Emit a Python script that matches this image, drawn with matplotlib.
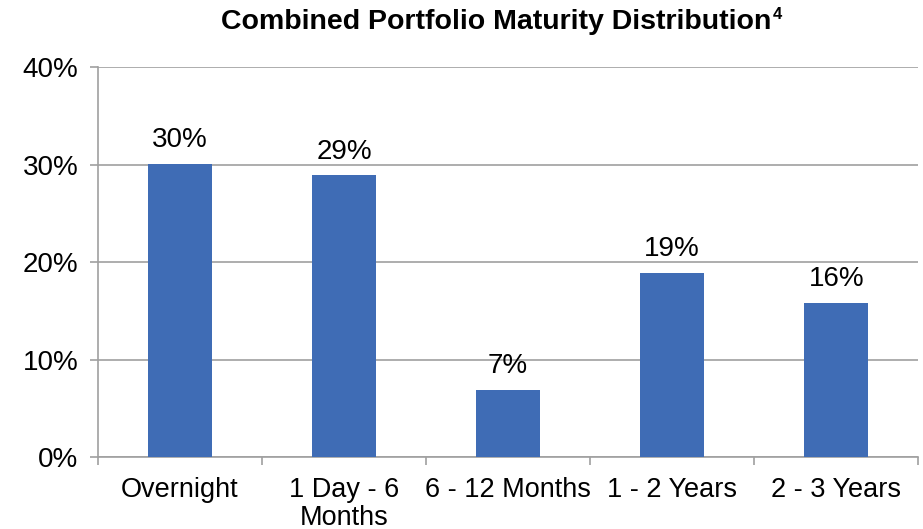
import numpy as np
import matplotlib.pyplot as plt
from matplotlib.ticker import FixedLocator

plt.rcParams['font.family'] = ['Liberation Sans', 'DejaVu Sans']

categories = ['Overnight', '1 Day - 6\nMonths', '6 - 12 Months', '1 - 2 Years', '2 - 3 Years']
values = [30.1, 28.9, 6.9, 18.9, 15.8]
labels = ['30%', '29%', '7%', '19%', '16%']
yticks = [0, 10, 20, 30, 40]

fig = plt.figure(figsize=(9.23, 5.29), dpi=100)
ax = fig.add_axes([0.106, 0.136, 0.889, 0.737])

x = np.arange(len(categories))
bars = ax.bar(x, values, width=0.39, color='#3f6cb5', zorder=3)
for xi, v, lab in zip(x, values, labels):
    ax.text(xi, v + 1.1, lab, ha='center', va='bottom', fontsize=20)

ax.set_xlim(-0.5, len(categories) - 0.5)
ax.set_ylim(0, 40)
ax.set_yticks(yticks)
ax.set_yticklabels([str(t) + '%' for t in yticks], fontsize=20)
ax.set_xticks(x)
ax.set_xticklabels(categories, fontsize=19.5, linespacing=1.1)
ax.xaxis.set_minor_locator(FixedLocator(np.arange(-0.5, len(categories), 1.0)))
ax.tick_params(axis='x', which='major', length=0, pad=14)
ax.tick_params(axis='x', which='minor', length=6, color='#a0a0a0', width=1.2)
ax.tick_params(axis='y', length=6, color='#a0a0a0', width=1.2, pad=8)

ax.grid(axis='y', color='#a0a0a0', linewidth=1.2, zorder=0)
for s in ['top', 'right']:
    ax.spines[s].set_visible(False)
for s in ['left', 'bottom']:
    ax.spines[s].set_color('#a0a0a0')
    ax.spines[s].set_linewidth(1.2)

# title, with the footnote mark set as a small raised "4"
title = fig.text(0.538, 0.945, 'Combined Portfolio Maturity Distribution',
                 ha='center', va='baseline', fontsize=20.5, fontweight='bold')
fig.canvas.draw()
bb = title.get_window_extent()
fig.text(bb.x1 / fig.bbox.width + 0.001, 0.965, '4', ha='left', va='baseline',
         fontsize=12, fontweight='bold')

fig.savefig('out.png', dpi=100)
